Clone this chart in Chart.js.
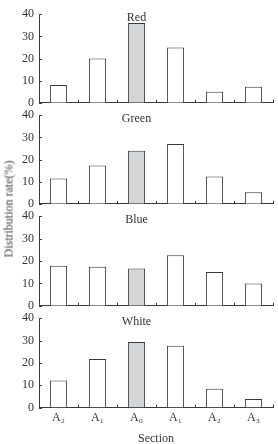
<!DOCTYPE html>
<html lang="en">
<head>
<meta charset="UTF-8">
<title>Distribution rate by section</title>
<script src="https://cdn.jsdelivr.net/npm/chart.js"></script>
<style>
  body { margin: 0; background: #fff; }
  #wrap { position: relative; width: 278px; height: 444px; font-family: 'Liberation Serif', 'Times New Roman', serif; color: #333; }
  #wrap canvas { position: absolute; left: 0; }
  .ylab { position: absolute; left: 9px; top: 209px; transform: translate(-50%, -50%) rotate(-90deg); white-space: nowrap; font-size: 12px; font-weight: normal; color: #444; }
  .xlab { position: absolute; left: 156px; top: 438px; transform: translate(-50%, -50%); font-size: 12px; }
</style>
</head>
<body>
<div id="wrap">
  <canvas id="c0" width="278" height="113" style="top:2px"></canvas>
  <canvas id="c1" width="278" height="113" style="top:103px"></canvas>
  <canvas id="c2" width="278" height="114" style="top:204px"></canvas>
  <canvas id="c3" width="278" height="122" style="top:306px"></canvas>
  <div class="ylab">Distribution rate(%)</div>
  <div class="xlab">Section</div>
</div>
<script>
const categories = ['A₂', 'A₁', 'A₀', 'A₁', 'A₂', 'A₃'];
const panelTitles = ['Red', 'Green', 'Blue', 'White'];
const redValues = [8, 20, 36, 25, 5, 7.2];
const greenValues = [11.4, 17.3, 23.9, 27, 12.3, 5.2];
const blueValues = [17.9, 17.4, 16.6, 22.6, 15.1, 9.9];
const whiteValues = [12.1, 21.8, 29.3, 27.7, 8.4, 3.9];
const yTicks = [0, 10, 20, 30, 40];

const allValues = [redValues, greenValues, blueValues, whiteValues];
const centerIndex = 2; // the A0 bar is shaded grey
const FONT = "'Liberation Serif', 'Times New Roman', serif";
const INK = '#3a3a3a';

// inward tick marks on both axes + the panel title over the A0 column
const panelDeco = {
  id: 'panelDeco',
  afterDraw(chart, args, opts) {
    const ctx = chart.ctx;
    const xs = chart.scales.x, ys = chart.scales.y;
    const area = chart.chartArea;
    ctx.save();
    ctx.strokeStyle = INK;
    ctx.lineWidth = 1;
    ctx.beginPath();
    const step = xs.getPixelForValue(1) - xs.getPixelForValue(0);
    for (let i = 1; i <= categories.length; i++) {
      const x = Math.round(xs.getPixelForValue(i) - step / 2) + 0.5;
      ctx.moveTo(x, area.bottom);
      ctx.lineTo(x, area.bottom - 3);
    }
    yTicks.forEach(v => {
      const y = Math.round(ys.getPixelForValue(v)) + 0.5;
      ctx.moveTo(area.left, y);
      ctx.lineTo(area.left + 3, y);
    });
    ctx.stroke();
    ctx.fillStyle = '#333';
    ctx.font = '12px ' + FONT;
    ctx.textAlign = 'center';
    ctx.textBaseline = 'middle';
    ctx.fillText(opts.title, xs.getPixelForValue(centerIndex), area.top + 4);
    ctx.restore();
  }
};

allValues.forEach((values, p) => {
  const last = p === allValues.length - 1;
  new Chart(document.getElementById('c' + p), {
    type: 'bar',
    data: {
      labels: categories,
      datasets: [{
        data: values,
        backgroundColor: values.map((v, i) => i === centerIndex ? '#d4d5d7' : '#ffffff'),
        borderColor: INK,
        borderWidth: 1,
        borderSkipped: 'bottom',
        categoryPercentage: 1,
        barPercentage: 0.44
      }]
    },
    options: {
      responsive: false,
      devicePixelRatio: 1,
      animation: false,
      layout: { padding: { top: 8, right: 5, bottom: last ? 0 : 8, left: 0 } },
      plugins: {
        legend: { display: false },
        tooltip: { enabled: false },
        panelDeco: { title: panelTitles[p] }
      },
      scales: {
        x: {
          grid: { display: false, drawTicks: false },
          border: { display: true, color: INK, width: 1 },
          ticks: { display: last, color: '#333', padding: 3, font: { family: FONT, size: 12 } }
        },
        y: {
          min: 0,
          max: 40,
          afterBuildTicks: scale => { scale.ticks = yTicks.map(v => ({ value: v })); },
          afterFit: scale => { scale.width = 39; },
          grid: { display: false, drawTicks: false },
          border: { display: true, color: INK, width: 1 },
          ticks: { color: '#333', padding: 5, font: { family: FONT, size: 12 } }
        }
      }
    },
    plugins: [panelDeco]
  });
});
</script>
</body>
</html>
